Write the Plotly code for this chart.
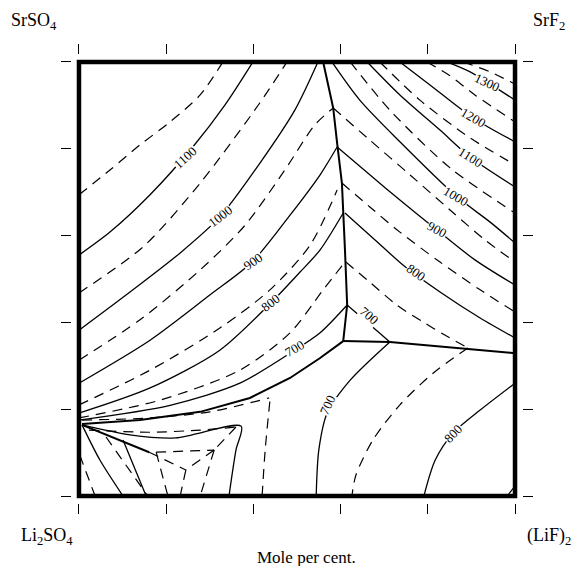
import plotly.graph_objects as go

# ---------------- data (mole per cent coordinates) ----------------
# SrSO4 primary field isotherms (x = % toward (LiF)2 side, y = % toward SrSO4/SrF2 side)
srso4_d1150 = [(0, 69.4), (7.1, 75.1), (14.0, 80.9), (20.9, 86.2), (27.8, 92.4), (33.0, 100)]
srso4_s1100 = [(0, 55.5), (7.1, 60.8), (16.3, 69.4), (26.1, 80.4), (33.5, 90.1), (39.9, 100)]
srso4_d1050 = [(0, 46.8), (14.7, 57.4), (27.8, 72.1), (41.5, 90.6), (47.7, 100)]
srso4_s1000 = [(0, 38.2), (11.7, 47.0), (23.2, 56.0), (32.3, 64.3), (41.5, 76.7), (49.5, 88.9), (54.8, 100)]
srso4_d950 = [(0, 31.3), (14.0, 40.6), (27.8, 52.1), (38.1, 62.4), (47.2, 75.1), (54.1, 85.5), (58.3, 89.4)]
srso4_s900 = [(0, 26.0), (16.3, 35.9), (30.0, 46.3), (39.7, 53.9), (48.4, 64.7), (55.3, 74.0), (59.2, 80.4)]
srso4_d850 = [(0, 21.0), (16.3, 29.0), (32.3, 38.7), (43.8, 47.5), (53.0, 57.8), (59.2, 70.5)]
srso4_s800 = [(0, 19.1), (16.3, 24.9), (32.3, 33.6), (44.0, 44.5), (50.7, 51.6), (55.3, 56.7), (60.6, 65.2)]
srso4_d750 = [(0, 18.0), (18.6, 22.1), (36.9, 29.0), (48.4, 37.6), (56.0, 47.5), (61.0, 53.9)]
srso4_s700 = [(0, 17.5), (20.9, 20.9), (36.9, 26.0), (49.5, 33.6), (55.3, 37.6), (61.5, 44.0)]

# SrF2 primary field isotherms
srf2_d1350 = [(88.1, 100), (94.3, 97.7), (100, 94.9)]
srf2_s1300 = [(84.4, 100), (89.7, 97.7), (94.3, 94.9), (100, 91.2)]
srf2_d1250 = [(79.8, 100), (85.1, 96.8), (90.8, 92.4), (100, 86.2)]
srf2_s1200 = [(73.6, 100), (80.5, 94.7), (90.4, 87.1), (100, 81.6)]
srf2_d1150 = [(69.0, 100), (78.2, 91.2), (89.7, 82.5), (100, 76.3)]
srf2_s1100 = [(66.1, 100), (73.6, 92.4), (82.8, 84.3), (89.7, 78.1), (100, 71.2)]
srf2_d1050 = [(62.2, 100), (71.3, 88.9), (85.1, 75.6), (100, 65.2)]
srf2_s1000 = [(58.0, 100), (64.4, 91.2), (73.6, 81.6), (86.5, 69.1), (94.3, 63.1), (100, 58.3)]
srf2_d950 = [(58.3, 89.4), (66.7, 82.0), (75.9, 74.0), (85.1, 65.9), (93.1, 59.0), (100, 53.9)]
srf2_s900 = [(59.2, 80.4), (66.7, 74.0), (73.6, 68.2), (82.1, 61.3), (90.8, 54.4), (100, 48.6)]
srf2_d850 = [(60.3, 72.1), (66.7, 66.6), (73.6, 60.8), (82.8, 53.9), (92.0, 47.5), (100, 42.4)]
srf2_s800 = [(61.0, 65.2), (67.9, 59.0), (74.8, 52.8), (82.8, 47.0), (92.0, 41.0), (100, 36.4)]
srf2_d750 = [(61.2, 53.9), (66.1, 49.8), (72.9, 44.0), (78.9, 40.1), (83.9, 37.1), (89.2, 34.1)]
srf2_s700 = [(61.5, 44.0), (71.3, 35.5)]

# LiF primary field isotherms
lif_s700 = [(71.3, 35.5), (62.2, 26.7), (56.9, 19.1), (55.0, 10.6), (54.4, 0)]
lif_d750 = [(89.2, 34.1), (81.2, 28.3), (73.6, 21.0), (67.4, 12.9), (63.5, 4.8), (62.6, 0)]
lif_s800 = [(100, 26.0), (92.0, 19.8), (85.8, 14.5), (81.7, 8.3), (79.1, 0)]
lif_d850 = [(98.2, 0), (100, 2.3)]

# field boundaries
bound_srso4_srf2 = [(56.0, 100), (58.3, 89.4), (59.2, 81.3), (60.3, 72.1), (61.0, 56.7), (61.5, 44.0), (60.6, 35.7)]
bound_srf2_lif = [(60.6, 35.7), (71.3, 35.5), (100, 32.9)]
bound_srso4_lif = [(60.6, 35.7), (55.3, 31.8), (48.4, 27.2), (39.2, 22.6), (27.8, 19.4), (14.0, 17.5), (0.7, 16.6)]
bound_li2so4 = [(0.7, 16.4), (16.1, 10.1)]

# Li2SO4 corner region
li_s1 = [(0.7, 16.4), (11.7, 14.1), (22.2, 13.4), (37.2, 16.1), (36.0, 10.6), (34.4, 0)]
li_d1 = [(2.3, 15.2), (16.3, 14.7), (27.8, 15.2), (36.0, 15.9)]
li_d2 = [(0.7, 17.5), (16.3, 18.0), (30.0, 19.4), (43.6, 22.6)]
li_d3 = [(42.0, 0), (42.7, 10.6), (43.8, 22.1)]
li_d4 = [(16.1, 10.1), (24.5, 6.0)]
li_d5 = [(17.7, 10.1), (31.0, 10.6)]
li_d6 = [(31.0, 10.6), (24.5, 6.0)]
li_d7 = [(36.0, 15.9), (31.0, 10.6)]
li_s2 = [(0.7, 16.4), (4.8, 8.3), (10.1, 0)]
li_d8 = [(0.2, 9.4), (3.7, 0)]
li_d9 = [(6.2, 13.6), (15.8, 0)]
li_s3 = [(10.1, 12.9), (15.4, 0)]
li_d10 = [(17.7, 10.1), (20.4, 0)]
li_d11 = [(24.5, 6.0), (23.2, 0)]
li_d12 = [(31.0, 10.6), (27.8, 0)]

# isotherm labels: (x, y, text, angle)
labels = [
    (24.3, 78.1, "1100", -42), (32.3, 64.5, "1000", -38), (39.9, 54.1, "900", -35),
    (44.0, 44.5, "800", -38), (49.5, 33.9, "700", -30),
    (93.6, 95.2, "1300", 25), (90.4, 87.1, "1200", 30), (89.9, 78.1, "1100", 32),
    (86.5, 69.1, "1000", 30), (82.1, 61.3, "900", 28), (77.3, 51.4, "800", 35),
    (66.5, 41.5, "700", 40),
    (57.1, 21.0, "700", -65), (85.8, 14.5, "800", -45),
]
tick_vals = [0, 20, 40, 60, 80, 100]

solid_curves = [srso4_s1100, srso4_s1000, srso4_s900, srso4_s800, srso4_s700,
                srf2_s1300, srf2_s1200, srf2_s1100, srf2_s1000, srf2_s900, srf2_s800, srf2_s700,
                lif_s700, lif_s800, li_s1, li_s2, li_s3]
dashed_curves = [srso4_d1150, srso4_d1050, srso4_d950, srso4_d850, srso4_d750,
                 srf2_d1350, srf2_d1250, srf2_d1150, srf2_d1050, srf2_d950, srf2_d850, srf2_d750,
                 lif_d750, lif_d850, li_d1, li_d2, li_d3, li_d4, li_d5, li_d6, li_d7,
                 li_d8, li_d9, li_d10, li_d11, li_d12]
boundaries = [bound_srso4_srf2, bound_srf2_lif, bound_srso4_lif, bound_li2so4]

fig = go.Figure()

def add_curve(pts, width, dash, smooth=True):
    xs = [p[0] for p in pts]
    ys = [p[1] for p in pts]
    fig.add_trace(go.Scatter(x=xs, y=ys, mode="lines",
                             line=dict(color="black", width=width, dash=dash,
                                       shape="spline" if smooth and len(pts) > 2 else "linear",
                                       smoothing=0.8),
                             hoverinfo="skip", showlegend=False))

for c in solid_curves:
    add_curve(c, 1.3, "solid")
for c in dashed_curves:
    add_curve(c, 1.2, "10px,7px")
for c in boundaries:
    add_curve(c, 2.0, "solid", smooth=False)

for (x, y, t, a) in labels:
    fig.add_annotation(x=x, y=y, text=t, textangle=a, showarrow=False,
                       font=dict(family="Liberation Serif", size=13, color="black"),
                       bgcolor="white", borderpad=0)

# frame
fig.add_shape(type="rect", x0=0, x1=100, y0=0, y1=100, xref="x", yref="y",
              line=dict(color="black", width=4.5))

serif = dict(family="Liberation Serif", size=18, color="black")
corner_labels = [(-0.085, 1.075, "SrSO<sub>4</sub>"), (1.06, 1.075, "SrF<sub>2</sub>"),
                 (-0.055, -0.075, "Li<sub>2</sub>SO<sub>4</sub>"), (1.06, -0.075, "(LiF)<sub>2</sub>")]
for (px, py, t) in corner_labels:
    fig.add_annotation(x=px, y=py, xref="paper", yref="paper", text=t, showarrow=False,
                       font=serif, xanchor="center", yanchor="middle")
fig.add_annotation(x=0.52, y=-0.121, xref="paper", yref="paper", text="Mole per cent.",
                   showarrow=False, font=dict(family="Liberation Serif", size=17, color="black"),
                   xanchor="center", yanchor="middle")

axis_common = dict(range=[-1.6, 101.6], tickvals=tick_vals, ticks="outside", ticklen=10,
                   tickwidth=1, tickcolor="black", showticklabels=False, showgrid=False,
                   zeroline=False, showline=False, mirror="ticks", fixedrange=True)
fig.update_xaxes(**axis_common)
fig.update_yaxes(**axis_common)
fig.update_layout(width=572, height=558, margin=dict(l=64, r=58, t=47, b=63),
                  plot_bgcolor="white", paper_bgcolor="white")

fig.write_html("out.html")
